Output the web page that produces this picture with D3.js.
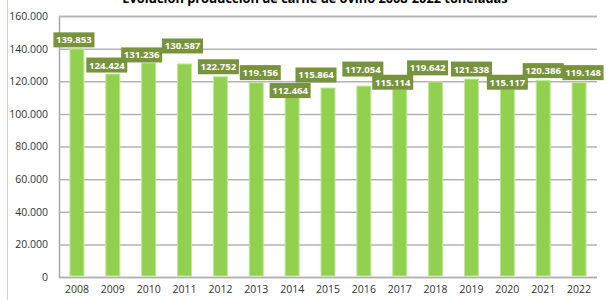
<!DOCTYPE html>
<html>
<head>
<meta charset="utf-8">
<script src="https://cdn.jsdelivr.net/npm/d3@7"></script>
<style>
  body { margin: 0; background: #fff; }
  svg { display: block; font-family: "Open Sans", "Noto Sans", sans-serif; }
</style>
</head>
<body>
<div id="chart"></div>
<script>
// Evolución producción de carne de ovino (toneladas)
var years = ['2008','2009','2010','2011','2012','2013','2014','2015','2016','2017','2018','2019','2020','2021','2022'];
var tonnes = [139853, 124424, 131236, 130587, 122752, 119156, 112464, 115864, 117054, 115114, 119642, 121338, 115117, 120386, 119148];
var yTicks = [0, 20000, 40000, 60000, 80000, 100000, 120000, 140000, 160000];

// hand nudges of the data labels, as in the original sheet [dx, dy] px
var labelNudge = [[-3,1],[-6,1],[-7,2],[-2,-8],[-2,0],[4,0],[-2,7],[-12,-3],[-1,-7],[-7,3],[-8,-4],[0,0],[0,3],[0,0],[4,0]];

var width = 606, height = 300,
    margin = {top: 16, right: 9, bottom: 23, left: 59};

var fmt = function(v){
    return d3.format(',')(v).replace(/,/g, '.');
};

var svg = d3.select('#chart')
    .append('svg')
    .attr('width', width)
    .attr('height', height);

var x = d3.scaleBand()
    .domain(years)
    .range([margin.left, width - margin.right])
    .paddingInner(0.61)
    .paddingOuter(0.305);

var y = d3.scaleLinear()
    .domain([0, 160000])
    .range([height - margin.bottom, margin.top]);

// outer chart border (left edge only visible)
svg.append('line')
    .attr('x1', 7.5).attr('x2', 7.5)
    .attr('y1', 0).attr('y2', height)
    .attr('stroke', '#d0d0d0');

// title, cut off by the top edge
svg.append('text')
    .attr('x', 315).attr('y', 3)
    .attr('text-anchor', 'middle')
    .attr('font-size', 12.8)
    .attr('font-weight', 'bold')
    .attr('fill', '#000')
    .text('Evolución producción de carne de ovino 2008-2022 toneladas');

// gridlines + y labels
var yAxis = d3.axisLeft(y)
    .tickValues(yTicks)
    .tickSize(-(width - margin.left - margin.right))
    .tickPadding(11)
    .tickFormat(fmt);

var gy = svg.append('g')
    .attr('transform', 'translate(' + margin.left + ',0)')
    .call(yAxis);
gy.select('.domain').attr('stroke', '#a6a6a6').attr('stroke-width', 1.5);
gy.selectAll('.tick line').attr('stroke', '#b3b3b3').attr('stroke-width', 1.5);
gy.selectAll('.tick text')
    .attr('font-size', 10.5)
    .attr('fill', '#333')
    .attr('font-family', '"Open Sans", sans-serif');

// x axis labels
var xAxis = d3.axisBottom(x).tickSize(0).tickPadding(9);
var gx = svg.append('g')
    .attr('transform', 'translate(0,' + (height - margin.bottom) + ')')
    .call(xAxis);
gx.select('.domain').remove();
gx.selectAll('.tick text')
    .attr('font-size', 10.5)
    .attr('fill', '#333')
    .attr('font-family', '"Open Sans", sans-serif');

// bars
svg.append('g')
    .selectAll('rect')
    .data(tonnes)
    .enter()
    .append('rect')
    .attr('x', function(d, i){ return x(years[i]); })
    .attr('width', x.bandwidth())
    .attr('y', function(d){ return y(d); })
    .attr('height', function(d){ return y(0) - y(d) - 1; })
    .attr('fill', '#92d050')
    .attr('stroke', '#c2e69a')
    .attr('stroke-width', 1);

// data labels
var labels = svg.append('g')
    .selectAll('g')
    .data(tonnes)
    .enter()
    .append('g')
    .attr('transform', function(d, i){
        var cx = x(years[i]) + x.bandwidth() / 2 + labelNudge[i][0],
            cy = y(d) - 10 + labelNudge[i][1];
        return 'translate(' + cx + ',' + cy + ')';
    });

labels.append('rect')
    .attr('x', -20.5).attr('y', -7.5)
    .attr('width', 41).attr('height', 15)
    .attr('fill', '#77933c');

labels.append('text')
    .attr('text-anchor', 'middle')
    .attr('dy', '0.36em')
    .attr('font-size', 9.6)
    .attr('font-weight', 'bold')
    .attr('fill', '#fff')
    .text(function(d){ return fmt(d); });
</script>
</body>
</html>
